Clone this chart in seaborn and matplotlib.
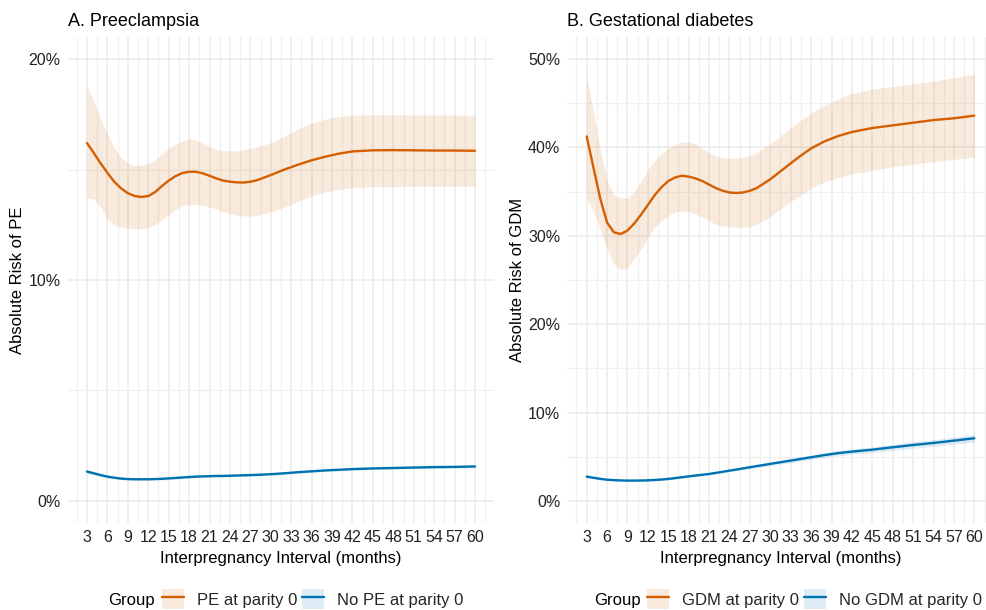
import matplotlib
matplotlib.use("Agg")
import numpy as np
import pandas as pd
import seaborn as sns
import matplotlib.pyplot as plt
from matplotlib.patches import Patch
from matplotlib.lines import Line2D
from matplotlib.legend_handler import HandlerTuple
from matplotlib.ticker import MultipleLocator, FuncFormatter

# ---------------- data (percent) ----------------
months = [3, 4, 5, 6, 7, 8, 9, 10, 11, 12, 13, 14, 15, 16, 17, 18, 19, 20, 21, 22,
          23, 24, 25, 26, 27, 28, 30, 32, 34, 36, 38, 40, 42, 45, 48, 51, 54, 57, 60]

# Panel A: Preeclampsia
pe_yes = [16.2, 15.75, 15.28, 14.85, 14.45, 14.15, 13.93, 13.8, 13.76, 13.8, 13.98, 14.25, 14.5,
          14.7, 14.84, 14.9, 14.9, 14.83, 14.72, 14.6, 14.5, 14.45, 14.42, 14.41, 14.45, 14.52,
          14.75, 15.0, 15.22, 15.42, 15.58, 15.72, 15.82, 15.87, 15.88, 15.87, 15.86, 15.86, 15.85]
pe_yes_hi = [18.8, 18.1, 17.3, 16.6, 16.0, 15.55, 15.3, 15.18, 15.2, 15.25, 15.45, 15.7, 15.95,
             16.15, 16.3, 16.37, 16.33, 16.2, 16.02, 15.9, 15.85, 15.84, 15.85, 15.9, 15.96, 16.03,
             16.22, 16.52, 16.85, 17.1, 17.28, 17.4, 17.46, 17.48, 17.48, 17.47, 17.47, 17.46, 17.46]
pe_yes_lo = [13.7, 13.67, 13.3, 12.75, 12.5, 12.38, 12.34, 12.32, 12.32, 12.38, 12.5, 12.72, 12.95,
             13.18, 13.35, 13.42, 13.42, 13.38, 13.3, 13.22, 13.1, 13.0, 12.93, 12.9, 12.89, 12.93,
             13.08, 13.3, 13.55, 13.8, 13.98, 14.1, 14.18, 14.22, 14.23, 14.24, 14.25, 14.25, 14.25]
pe_no = [1.33, 1.25, 1.17, 1.1, 1.05, 1.01, 0.99, 0.98, 0.98, 0.98, 0.99, 1.0, 1.02, 1.04, 1.06,
         1.08, 1.1, 1.11, 1.12, 1.13, 1.13, 1.14, 1.15, 1.16, 1.17, 1.18, 1.21, 1.25, 1.3, 1.34,
         1.38, 1.41, 1.44, 1.47, 1.49, 1.51, 1.53, 1.54, 1.56]
pe_no_hi = [1.42, 1.33, 1.24, 1.16, 1.11, 1.06, 1.04, 1.03, 1.03, 1.03, 1.04, 1.05, 1.07, 1.09, 1.11,
            1.13, 1.15, 1.16, 1.17, 1.18, 1.18, 1.19, 1.2, 1.21, 1.22, 1.23, 1.26, 1.3, 1.35, 1.39,
            1.43, 1.46, 1.49, 1.52, 1.54, 1.56, 1.59, 1.6, 1.63]
pe_no_lo = [1.24, 1.17, 1.1, 1.04, 0.99, 0.96, 0.94, 0.93, 0.93, 0.93, 0.94, 0.95, 0.97, 0.99, 1.01,
            1.03, 1.05, 1.06, 1.07, 1.08, 1.08, 1.09, 1.1, 1.11, 1.12, 1.13, 1.16, 1.2, 1.25, 1.29,
            1.33, 1.36, 1.39, 1.42, 1.44, 1.46, 1.47, 1.48, 1.49]

# Panel B: Gestational diabetes
gdm_yes = [41.25, 37.7, 34.2, 31.5, 30.4, 30.2, 30.6, 31.4, 32.4, 33.5, 34.6, 35.5, 36.2, 36.6,
           36.8, 36.7, 36.5, 36.2, 35.8, 35.4, 35.1, 34.9, 34.85, 34.9, 35.1, 35.4, 36.4, 37.6,
           38.8, 39.9, 40.7, 41.3, 41.75, 42.2, 42.5, 42.8, 43.1, 43.3, 43.6]
gdm_yes_hi = [48.1, 44.0, 39.8, 36.3, 34.6, 34.3, 34.3, 35.0, 36.2, 37.5, 38.5, 39.3, 39.9, 40.3,
              40.6, 40.6, 40.4, 39.9, 39.4, 39.0, 38.8, 38.75, 38.8, 38.9, 39.1, 39.4, 40.4, 41.6,
              42.8, 43.9, 44.8, 45.5, 46.1, 46.6, 46.9, 47.2, 47.5, 47.9, 48.3]
gdm_yes_lo = [34.2, 32.7, 30.8, 28.5, 26.8, 26.2, 26.4, 27.4, 28.5, 29.8, 31.0, 31.7, 32.3, 32.7,
              32.8, 32.7, 32.5, 32.1, 31.7, 31.3, 31.1, 31.0, 30.95, 30.95, 31.05, 31.3, 32.2, 33.3,
              34.4, 35.4, 36.1, 36.6, 37.0, 37.4, 37.8, 38.1, 38.4, 38.65, 38.9]
gdm_no = [2.75, 2.62, 2.5, 2.4, 2.35, 2.32, 2.3, 2.3, 2.31, 2.33, 2.37, 2.42, 2.49, 2.58, 2.68,
          2.78, 2.87, 2.96, 3.05, 3.17, 3.3, 3.43, 3.55, 3.68, 3.81, 3.94, 4.19, 4.44, 4.69, 4.94,
          5.19, 5.41, 5.58, 5.8, 6.07, 6.33, 6.56, 6.82, 7.09]
gdm_no_hi = [2.9, 2.75, 2.62, 2.51, 2.46, 2.43, 2.41, 2.41, 2.42, 2.44, 2.48, 2.53, 2.6, 2.69, 2.79,
             2.89, 2.99, 3.08, 3.18, 3.3, 3.44, 3.57, 3.7, 3.84, 3.98, 4.12, 4.39, 4.66, 4.93, 5.2,
             5.46, 5.7, 5.88, 6.12, 6.41, 6.69, 6.94, 7.22, 7.52]
gdm_no_lo = [2.6, 2.49, 2.38, 2.29, 2.24, 2.21, 2.19, 2.19, 2.2, 2.22, 2.26, 2.31, 2.38, 2.47, 2.57,
             2.67, 2.75, 2.84, 2.92, 3.04, 3.16, 3.29, 3.4, 3.52, 3.64, 3.76, 3.99, 4.22, 4.45, 4.68,
             4.92, 5.12, 5.28, 5.48, 5.73, 5.97, 6.18, 6.42, 6.66]

x_ticks = list(range(3, 61, 3))
titles = ["A. Preeclampsia", "B. Gestational diabetes"]
ylabels = ["Absolute Risk of PE", "Absolute Risk of GDM"]
groups_A = ["PE at parity 0", "No PE at parity 0"]
groups_B = ["GDM at parity 0", "No GDM at parity 0"]
xlabel = "Interpregnancy Interval (months)"

ORANGE = "#D55E00"
BLUE = "#0072B2"

# ---------------- style ----------------
sns.set_theme(style="white")
plt.rcParams["font.family"] = ["Liberation Sans", "DejaVu Sans"]

W, H = 987, 610
fig = plt.figure(figsize=(W / 100, H / 100), dpi=100)


def axes_px(l, r, t, b):
    return fig.add_axes([l / W, 1 - b / H, (r - l) / W, (b - t) / H])


axA = axes_px(67.6, 494.4, 37, 523)
axB = axes_px(567.3, 993.7, 37, 523)

panels = [
    (axA, groups_A, pe_yes, pe_yes_lo, pe_yes_hi, pe_no, pe_no_lo, pe_no_hi, (0, 20), 10, 5),
    (axB, groups_B, gdm_yes, gdm_yes_lo, gdm_yes_hi, gdm_no, gdm_no_lo, gdm_no_hi, (0, 50), 10, 5),
]

for i, (ax, groups, y1, lo1, hi1, y2, lo2, hi2, (ymin, ymax), maj, mnr) in enumerate(panels):
    ax.fill_between(months, lo1, hi1, color=ORANGE, alpha=0.13, lw=0)
    ax.fill_between(months, lo2, hi2, color=BLUE, alpha=0.13, lw=0)
    df = pd.DataFrame({
        "month": months * 2,
        "risk": list(y1) + list(y2),
        "Group": [groups[0]] * len(months) + [groups[1]] * len(months),
    })
    sns.lineplot(data=df, x="month", y="risk", hue="Group", hue_order=groups,
                 palette=[ORANGE, BLUE], lw=1.7, ax=ax, legend=False)

    span = ymax - ymin
    ax.set_ylim(ymin - 0.05 * span, ymax + 0.05 * span)
    ax.set_xlim(3 - 0.05 * 57, 60 + 0.05 * 57)
    ax.set_xticks(x_ticks)
    ax.set_xticks([t - 1.5 for t in x_ticks] + [61.5], minor=True)
    ax.yaxis.set_major_locator(MultipleLocator(maj))
    ax.yaxis.set_minor_locator(MultipleLocator(mnr))
    ax.yaxis.set_major_formatter(FuncFormatter(lambda v, p: f"{v:.0f}%"))
    ax.grid(which="major", color="#EBEBEB", lw=1.1)
    ax.grid(which="minor", color="#F0F0F0", lw=0.9)
    ax.set_axisbelow(True)
    for s in ax.spines.values():
        s.set_visible(False)
    ax.tick_params(which="both", length=0)
    ax.tick_params(axis="x", labelsize=11.5, pad=5, colors="#222222")
    ax.tick_params(axis="y", labelsize=11.5, pad=5, colors="#222222")

    ax.set_xlabel(xlabel, fontsize=12, color="black", va="center")
    ax.xaxis.set_label_coords(0.5, -(558 - 523) / 486)
    ax.set_ylabel(ylabels[i], fontsize=12, color="black", va="center")
    ax.yaxis.set_label_coords(-(67.6 - 18) / 426.8, 0.5)
    ax.text(0, 1 + (37 - 26) / 486, titles[i], transform=ax.transAxes,
            fontsize=13, ha="left", va="baseline", color="black")

    # legend
    handles = [
        (Patch(facecolor=ORANGE, alpha=0.13, lw=0), Line2D([], [], color=ORANGE, lw=1.7)),
        (Patch(facecolor=BLUE, alpha=0.13, lw=0), Line2D([], [], color=BLUE, lw=1.7)),
    ]
    group_x = 108 if i == 0 else 594
    key_x = 162 if i == 0 else 647
    fig.text(group_x / W, 1 - 600 / H, "Group", fontsize=12, ha="left", va="center",
             color="black")
    fig.legend(handles, groups, ncol=2, loc="center left",
               bbox_to_anchor=(key_x / W, 1 - 599 / H), frameon=False,
               fontsize=12, handlelength=1.3, handleheight=1.4, handletextpad=0.8,
               columnspacing=0.3, borderpad=0, borderaxespad=0,
               handler_map={tuple: HandlerTuple(ndivide=1, pad=0)})

fig.savefig("out.png", dpi=100)
